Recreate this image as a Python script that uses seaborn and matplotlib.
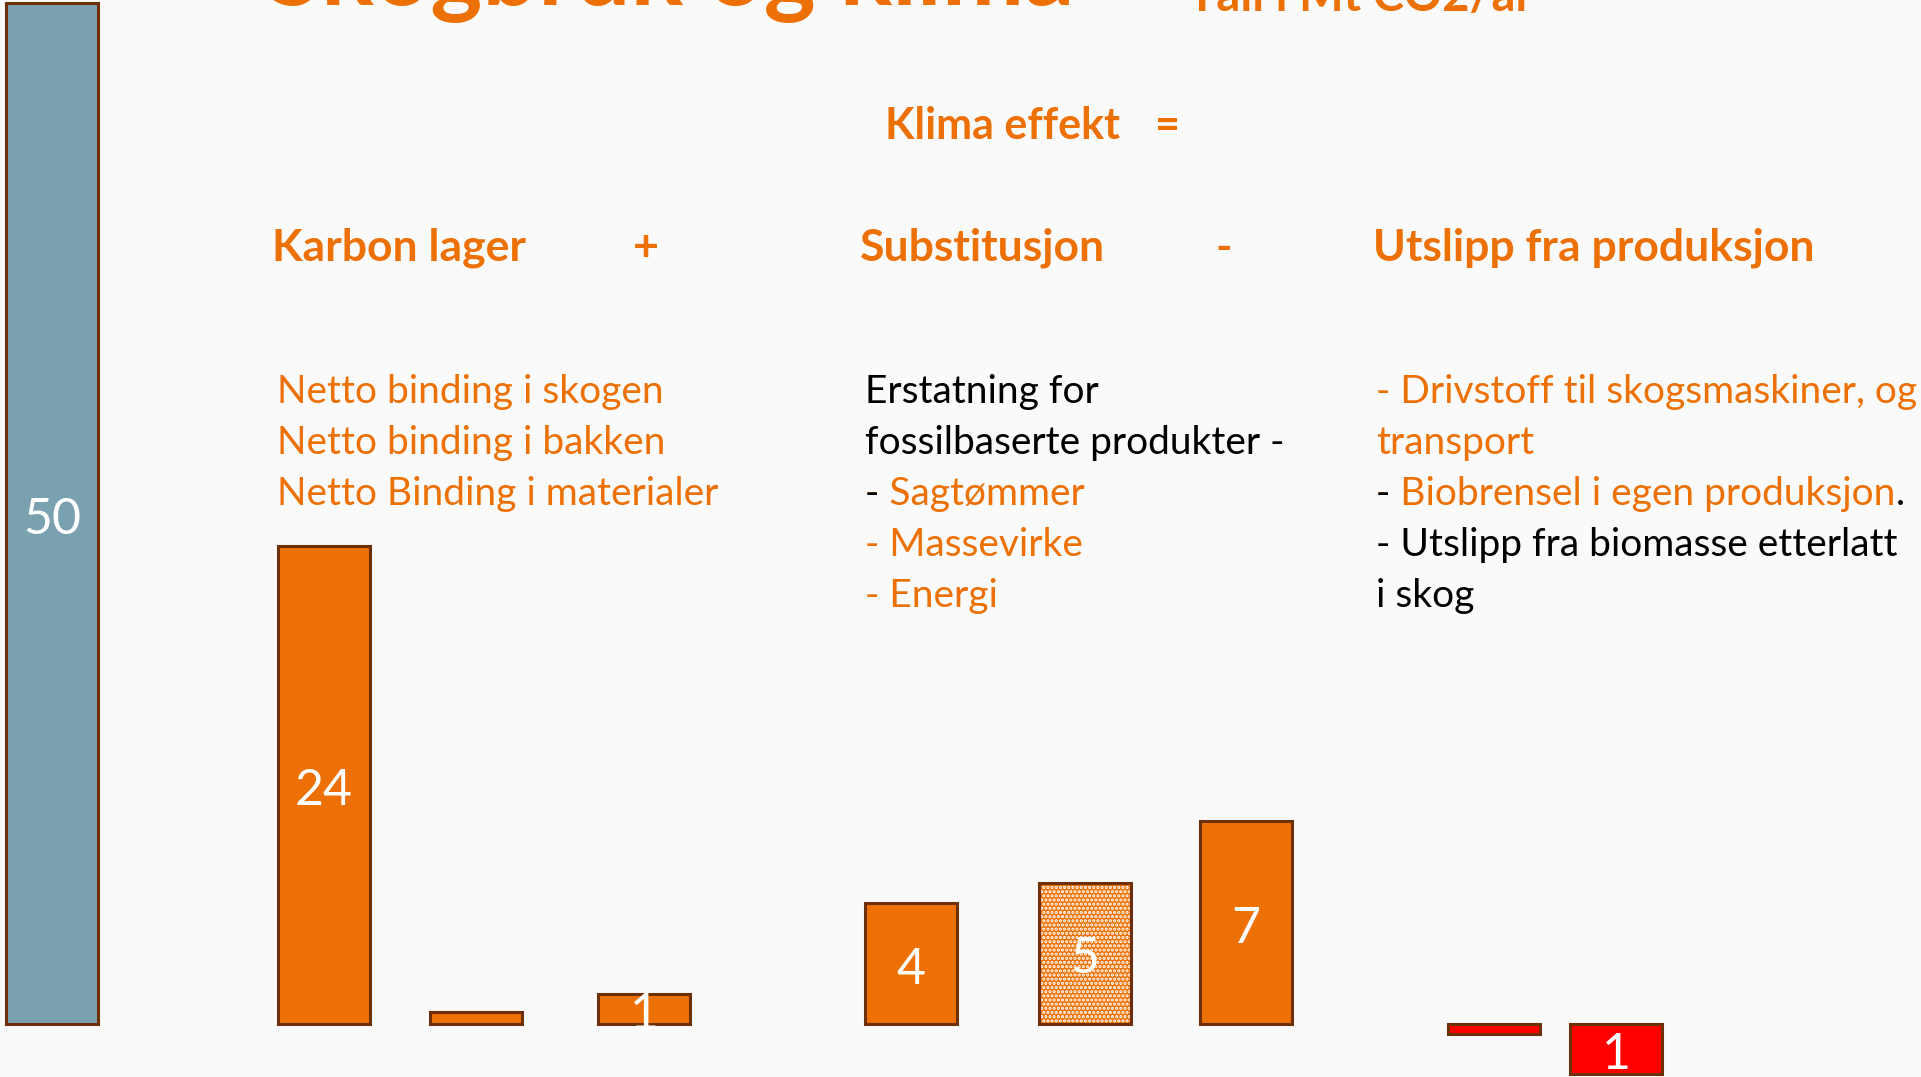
import matplotlib
matplotlib.use("Agg")
import matplotlib.pyplot as plt
from matplotlib.patches import Rectangle
import seaborn as sns

# bar values as printed on the slide, and the drawn heights (slide is not to scale)
bar_labels = ["50", "24", "", "1", "4", "5", "7", "", "1"]
bar_heights = [50, 23.4, 0.55, 1.45, 5.9, 6.9, 9.9, -0.5, -2.45]
bar_groups = ["total", "lager", "lager", "lager", "subst", "subst", "subst", "utslipp", "utslipp"]
hatched_bar = 5

# column headings and body text
title = "Skogbruk og klima"
unit_text = "Tall i Mt CO2/år"
effect_heading = "Klima effekt"
headings = ["Karbon lager", "Substitusjon", "Utslipp fra produksjon"]
operators = ["=", "+", "-"]
lager_lines = ["Netto binding i skogen", "Netto binding i bakken", "Netto Binding i materialer"]

# layout (slide pixels)
W, H = 1921, 1077
bar_x = [52, 324, 476, 644, 911, 1085, 1246, 1494, 1616]

ORANGE = "#ED7004"
BROWN = "#6E3008"
group_colors = {"total": "#7AA1AF", "lager": ORANGE, "subst": ORANGE, "utslipp": "#FF0000"}
BODY = 28
HEAD = 32

sns.set_theme(style="white")
plt.rcParams["font.family"] = ["Lato", "DejaVu Sans"]
plt.rcParams["hatch.linewidth"] = 1.6

fig = plt.figure(figsize=(W / 100, H / 100), dpi=100, facecolor="#FAFAFA")
ax = fig.add_axes([0, 0, 1, 1])
ax.set_facecolor("#FAFAFA")

sns.barplot(x=bar_x, y=bar_heights, native_scale=True, width=92 / 122,
            color=ORANGE, edgecolor=BROWN, linewidth=2.2, errorbar=None, ax=ax)

for patch, grp in zip(ax.patches, bar_groups):
    patch.set_facecolor(group_colors[grp])

# dotted fill on the "Massevirke" bar, border drawn on top
hp = ax.patches[hatched_bar]
ax.add_patch(Rectangle((hp.get_x(), hp.get_y()), hp.get_width(), hp.get_height(),
                       facecolor="none", edgecolor=BROWN, linewidth=2.2, zorder=5))
hp.set_edgecolor("white")
hp.set_linewidth(0)
hp.set_hatch("....")

anns = ax.bar_label(ax.containers[0], labels=bar_labels, label_type="center",
                    color="white", fontsize=36, zorder=6)
for a in anns:
    a.xyann = (0, -4.5)

ax.set_xlim(0, W)
ax.set_ylim(-2.62, 50.15)
ax.axis("off")


def pos(x, y):
    return x / W, 1 - y / H


def line(x, y, s, color=ORANGE, size=BODY, weight="normal"):
    return fig.text(*pos(x, y), s, color=color, fontsize=size, fontweight=weight,
                    ha="left", va="baseline")


# cut-off title at the very top
line(267, 5, title, size=71, weight="bold")
line(1188, 11, unit_text, size=34, weight="bold")

# headings
line(885, 139, effect_heading, size=31, weight="bold")
line(1155, 139, operators[0], size=31, weight="bold")
line(272, 261, headings[0], size=HEAD, weight="bold")
line(633, 261, operators[1], size=HEAD, weight="bold")
line(860, 261, headings[1], size=HEAD, weight="bold")
line(1215, 261, operators[2], size=HEAD, weight="bold")
line(1373, 261, headings[2], size=HEAD, weight="bold")

# left column
for i, s in enumerate(lager_lines):
    line(277, 403 + i * 51, s)

# middle column
line(865, 403, "Erstatning for", color="black")
line(865, 454, "fossilbaserte produkter -", color="black")
line(865, 505, "- Sagtømmer")
line(865, 505, "-", color="black")
line(865, 556, "- Massevirke")
line(865, 607, "- Energi")

# right column
line(1376, 403, "- Drivstoff til skogsmaskiner, og")
line(1376, 454, "transport")
t = line(1376, 505, "- Biobrensel i egen produksjon")
line(1376, 505, "-", color="black")
ax.annotate(".", xy=(1, 0), xycoords=t, ha="left", va="bottom",
            color="black", fontsize=BODY, annotation_clip=False)
line(1376, 556, "- Utslipp fra biomasse etterlatt", color="black")
line(1376, 607, "i skog", color="black")

plt.savefig("out.png", dpi=100, facecolor=fig.get_facecolor())
